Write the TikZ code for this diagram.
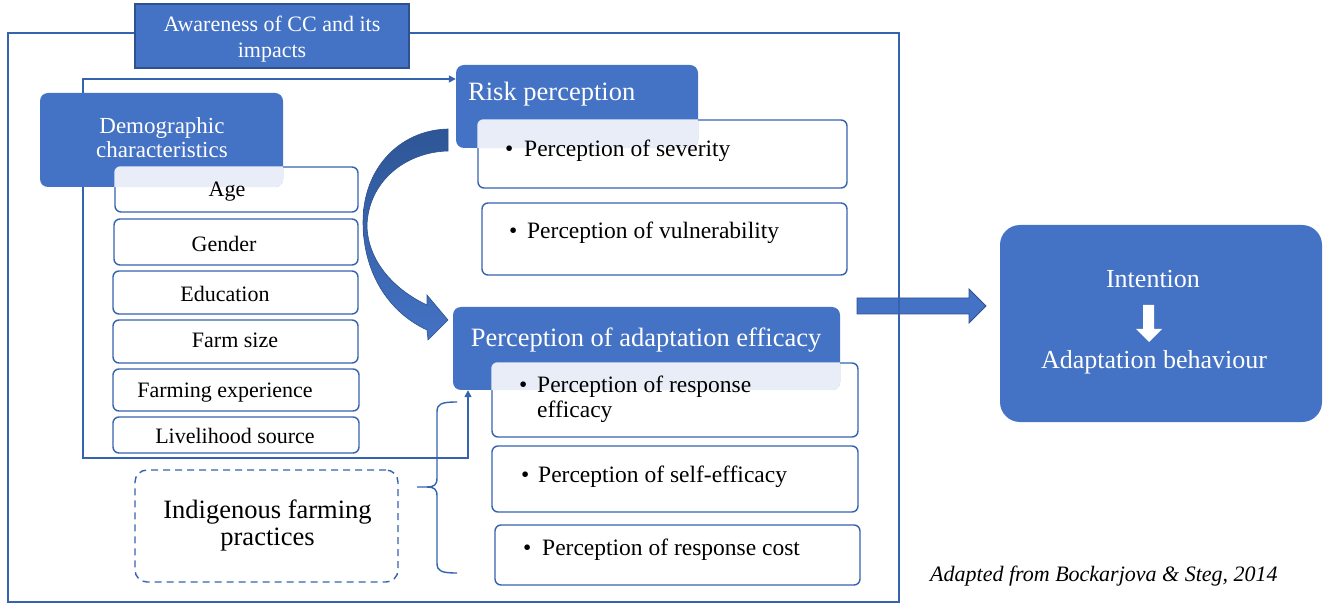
\documentclass[tikz,border=0pt]{standalone}
\usepackage{fontspec}
\setmainfont{Liberation Serif}
\usetikzlibrary{arrows.meta,calc}
\definecolor{hblue}{HTML}{4472C4}
\definecolor{hborder}{HTML}{2F528F}
\definecolor{lblue}{HTML}{3563B0}
\definecolor{lightov}{HTML}{E9EDF7}
\definecolor{darkarc}{HTML}{2E5696}
\newcommand\fsz[2]{\fontsize{#1}{#2}\selectfont}
\begin{document}
\begin{tikzpicture}[x=1pt,y=-1pt,
  hdr/.style={fill=hblue, inner sep=0pt, rounded corners=8pt},
  wbox/.style={fill=white, draw=lblue, line width=1.4pt, rounded corners=6pt, inner sep=0pt},
  conn/.style={draw=lblue, line width=1.5pt},
  tipend/.style={-{Triangle[length=7pt,width=7pt]}},
  itm/.style={font=\fsz{22}{26}, inner sep=0pt, anchor=base},
  bul/.style={font=\fsz{23.5}{25}, inner sep=0pt, anchor=base west, align=left},
  wtxt/.style={text=white, inner sep=0pt}
]
\useasboundingbox (0,0) rectangle (1325,609);

% big block arrow and frame
\filldraw[fill=hblue, draw=hborder, line width=0.8pt] (857,298) -- (969,298) -- (969,289) -- (986,306) -- (969,323) -- (969,314) -- (857,314) -- cycle;
\draw[conn] (8,33) rectangle (899,602);

% awareness box
\node[fill=hblue, draw=hborder, line width=1.2pt, inner sep=0pt, minimum width=274pt, minimum height=64pt] (aware) at (272,36) {};
\node[wtxt, font=\fsz{22}{26}, align=center] (taware) at (272,39) {Awareness of CC and its\\impacts};

% coordinates for connectors
\coordinate (c1) at (83,79);
\coordinate (c2) at (83,458);
\coordinate (c3) at (468,458);

% white boxes
\node[wbox, minimum width=243pt, minimum height=45pt] (age) at (236.5,189.5) {};
\node[wbox, minimum width=244pt, minimum height=46pt] (gender) at (236,242) {};
\node[wbox, minimum width=245pt, minimum height=43pt] (edu) at (235.5,292.5) {};
\node[wbox, minimum width=245pt, minimum height=43pt] (farm) at (235.5,341.5) {};
\node[wbox, minimum width=246pt, minimum height=42pt] (exp) at (236,390) {};
\node[wbox, minimum width=246pt, minimum height=36pt] (live) at (236,435) {};
\node[wbox, minimum width=369pt, minimum height=68pt] (sev) at (662.5,154) {};
\node[wbox, minimum width=365pt, minimum height=72pt] (vul) at (664.5,239) {};
\node[wbox, minimum width=366pt, minimum height=74pt] (reff) at (675,400) {};
\node[wbox, minimum width=366pt, minimum height=66pt] (self) at (675,479) {};
\node[wbox, minimum width=365pt, minimum height=60pt] (cost) at (677.5,555) {};

% header boxes
\node[hdr, minimum width=243pt, minimum height=94pt] (demo) at (161.5,140) {};
\node[hdr, minimum width=242pt, minimum height=83pt] (risk) at (577,106.5) {};
\node[hdr, minimum width=387pt, minimum height=83pt] (adapt) at (646.5,348.5) {};

% connectors
\draw[conn, tipend] (demo.north -| c1) -- (c1) -- (c1 -| risk.west);
\draw[conn, tipend] (demo.south -| c2) -- (c2) -- (c3) -- (c3 |- adapt.south);

% light overlaps
\begin{scope}
\clip[rounded corners=8pt] (demo.north west) rectangle (demo.south east);
\fill[lightov, rounded corners=6pt] (age.north west) rectangle (age.south east);
\end{scope}
\begin{scope}
\clip[rounded corners=8pt] (risk.north west) rectangle (risk.south east);
\fill[lightov, rounded corners=6pt] (sev.north west) rectangle (sev.south east);
\end{scope}
\begin{scope}
\clip[rounded corners=8pt] (adapt.north west) rectangle (adapt.south east);
\fill[lightov, rounded corners=6pt] (reff.north west) rectangle (reff.south east);
\end{scope}

% header texts
\node[wtxt, font=\fsz{23}{24}, align=center] (tdemo) at (162,138) {Demographic\\characteristics};
\node[wtxt, font=\fsz{26.5}{30}, anchor=base west] (trisk) at (468,101) {Risk perception};
\node[wtxt, font=\fsz{26.5}{30}, anchor=base] (tadapt) at (646,347) {Perception of adaptation efficacy};

% item texts
\node[itm] (tage) at (227,197) {Age};
\node[itm] (tgender) at (224,252) {Gender};
\node[itm] (tedu) at (225,302) {Education};
\node[itm] (tfarm) at (235,348) {Farm size};
\node[itm] (texp) at (225,397) {Farming experience};
\node[itm] (tlive) at (235,443) {Livelihood source};

\node[bul] (tsev) at (505,157) {\makebox[19pt][l]{•}Perception of severity};
\node[bul] (tvul) at (509,239) {\makebox[18pt][l]{•}Perception of vulnerability};
\node[bul, anchor=north west] (treff) at (519,376) {\makebox[18pt][l]{•}Perception of response\\\hspace*{18pt}efficacy};
\node[bul] (tself) at (521,482) {\makebox[17pt][l]{•}Perception of self-efficacy};
\node[bul] (tcost) at (523,555) {\makebox[19pt][l]{•}Perception of response cost};

% curved arrow
\shade[top color=darkarc, bottom color=hblue, draw=hborder, line width=0.6pt]
  (448,129) .. controls (400,130) and (363,168) .. (363,222)
  .. controls (363,272) and (388,312) .. (427,330)
  -- (428,340) -- (448,320) -- (427,295) -- (427,305)
  .. controls (395,290) and (368,262) .. (367,226)
  .. controls (368,182) and (405,152) .. (448,151) -- cycle;

% brace
\draw[conn, line width=1.4pt] (417,487) -- (427,487) .. controls (434,487) and (437,485) .. (437,478) -- (437,412) .. controls (437,404) and (441,402) .. (457,402);
\draw[conn, line width=1.4pt] (427,487) .. controls (434,487) and (437,489) .. (437,496) -- (437,563) .. controls (437,571) and (441,573) .. (457,573);

% indigenous dashed box
\node[draw=lblue, line width=1.4pt, dash pattern=on 7pt off 5pt, rounded corners=12pt, minimum width=263pt, minimum height=112pt, inner sep=0pt] (indig) at (266.5,526) {};
\node[font=\fsz{26.5}{27}, align=center, inner sep=0pt] (tindig) at (267.5,525) {Indigenous farming\\practices};

% intention box
\node[fill=hblue, rounded corners=20pt, minimum width=322pt, minimum height=197pt, inner sep=0pt] (intent) at (1161,323.5) {};
\node[wtxt, font=\fsz{26}{30}, anchor=base] (tint) at (1153,288) {Intention};
\node[wtxt, font=\fsz{26}{30}, anchor=base] (tbeh) at (1154,369) {Adaptation behaviour};
\fill[white] (1143,305) -- (1154,305) -- (1154,329) -- (1162,329) -- (1149,342) -- (1136,329) -- (1143,329) -- cycle;

% caption
\node[font=\fsz{22}{26}\itshape, inner sep=0pt, anchor=base west] (cap) at (930,581) {Adapted from Bockarjova \& Steg, 2014};
\end{tikzpicture}
\end{document}
